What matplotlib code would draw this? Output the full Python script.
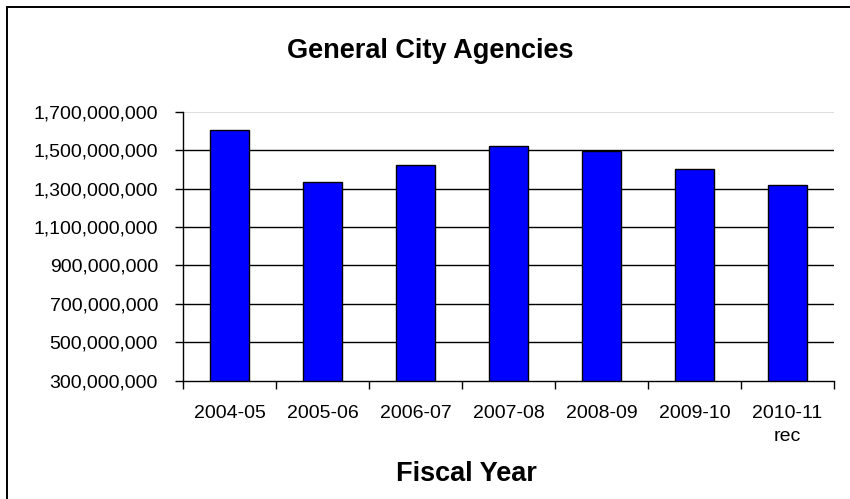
import matplotlib
matplotlib.use("Agg")
import matplotlib.pyplot as plt
from matplotlib.patches import Rectangle
from matplotlib.ticker import FuncFormatter, FixedLocator

plt.rcParams['font.family'] = ['Liberation Sans', 'DejaVu Sans']

# Spending by fiscal year
fiscal_years = ["2004-05", "2005-06", "2006-07", "2007-08", "2008-09", "2009-10", "2010-11\nrec"]
spending = [1_605_000_000, 1_333_000_000, 1_422_000_000, 1_521_000_000,
            1_496_000_000, 1_401_000_000, 1_320_000_000]
y_ticks = [300_000_000, 500_000_000, 700_000_000, 900_000_000,
           1_100_000_000, 1_300_000_000, 1_500_000_000, 1_700_000_000]

W, H = 850, 499
fig = plt.figure(figsize=(W / 100, H / 100), dpi=100)
fig.patch.set_facecolor("white")

# outer chart frame
fig.patches.append(Rectangle((6.5 / W, -0.2), 1.2, 1.2 - 7 / H,
                             transform=fig.transFigure, fill=False,
                             edgecolor="black", linewidth=1.4, zorder=10))

ax = fig.add_axes([183 / W, (H - 380.5) / H, (834 - 183) / W, (380.5 - 112) / H])
x = range(len(fiscal_years))
ax.bar(x, [v - y_ticks[0] for v in spending], bottom=y_ticks[0], width=0.41,
       color="#0000FF", edgecolor="black", linewidth=1.0, zorder=3)

ax.set_xlim(-0.5, len(fiscal_years) - 0.5)
ax.set_ylim(y_ticks[0], y_ticks[-1])

# horizontal gridlines
for t in y_ticks[1:-1]:
    ax.axhline(t, color="black", linewidth=1.0, zorder=1)
ax.axhline(y_ticks[-1], color="#d9d9d9", linewidth=1.2, zorder=1)

ax.set_yticks(y_ticks)
ax.yaxis.set_major_formatter(FuncFormatter(lambda v, p: f"{int(v):,}"))
ax.set_xticks(list(x))
ax.set_xticklabels(fiscal_years, linespacing=1.45)
ax.xaxis.set_minor_locator(FixedLocator([i - 0.5 for i in range(len(fiscal_years) + 1)]))
ax.tick_params(axis="x", which="major", length=0, pad=18, labelsize=14)
ax.tick_params(axis="x", which="minor", length=6, width=1.0, direction="out")
ax.tick_params(axis="y", length=6, width=1.0, direction="out", pad=12, labelsize=14)

for s in ["top", "right"]:
    ax.spines[s].set_visible(False)
ax.spines["left"].set_linewidth(1.0)
ax.spines["bottom"].set_linewidth(1.0)

fig.text(430 / W, (H - 51) / H, "General City Agencies", ha="center", va="center",
         fontsize=19.5, fontweight="bold")
fig.text(466 / W, (H - 474) / H, "Fiscal Year", ha="center", va="center",
         fontsize=19.5, fontweight="bold")

fig.savefig("out.png", dpi=100)
